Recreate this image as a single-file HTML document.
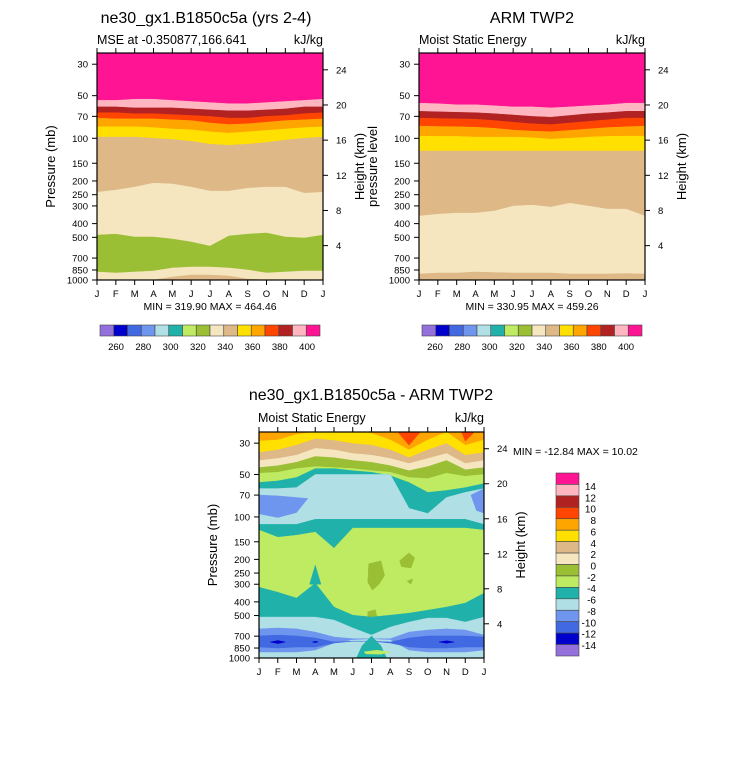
<!DOCTYPE html>
<html><head><meta charset="utf-8"><style>
body{margin:0;background:#fff;}
svg{display:block;font-family:"Liberation Sans",Arial,sans-serif;}
</style></head><body>
<svg id="root" width="733" height="768" viewBox="0 0 733 768" xmlns="http://www.w3.org/2000/svg"></svg>
<script>
const months=['J','F','M','A','M','J','J','A','S','O','N','D','J'];
const pTicks=[30,50,70,100,150,200,250,300,400,500,700,850,1000];
const zTicks=[4,8,12,16,20,24];
const C={purple:'#9370DB',mblue:'#0000CD',royal:'#4169E1',corn:'#6F96EE',powder:'#B0E0E6',lsg:'#20B2AA',gy:'#BEEB62',yg:'#9ABF34',wheat:'#F5E6C0',burly:'#DEB887',gold:'#FFE000',orange:'#FFA500',ored:'#FF4500',fire:'#B22222',lpink:'#FFB6C1',dpink:'#FF1493'};
const barColors=[C.purple,C.mblue,C.royal,C.corn,C.powder,C.lsg,C.gy,C.yg,C.wheat,C.burly,C.gold,C.orange,C.ored,C.fire,C.lpink,C.dpink];
const topBarLabels=['260','280','300','320','340','360','380','400'];
const diffBarLabels=['14','12','10','8','6','4','2','0','-2','-4','-6','-8','-10','-12','-14'];

// Panel 1: model MSE, band boundaries (mb) per month
const m1B1=[54,54,53,53,54,55,56,57,57,56,55,54,53];
const m1B2=[60,60,61,61,61,62,63,64,64,63,62,60,60];
const m1B3=[66,66,67,67,68,69,70,72,72,70,69,67,66];
const m1B4=[72,73,73,73,74,75,78,80,79,77,75,74,73];
const m1B5=[83,83,83,84,86,87,90,92,90,88,86,84,83];
const m1B6=[98,98,98,100,102,105,110,112,110,107,103,100,98];
const m1B7=[240,232,221,207,210,221,236,236,225,221,221,244,240];
const m1B8=[482,474,497,497,514,539,576,489,474,466,497,505,482];
const m1B9=[878,893,878,864,823,810,810,823,850,893,878,864,864];
const m1B10=[1000,1000,1000,1000,952,922,922,937,984,1000,1000,1000,1000];
const m1Colors=[C.dpink,C.lpink,C.fire,C.ored,C.orange,C.gold,C.burly,C.wheat,C.yg,C.wheat,C.burly];

// Panel 2: ARM TWP2
const o2B1=[56.5,57,58,58,59,60,60,61,60,59,58,56.5,56.5];
const o2B2=[64.5,65,65.5,66,67,68.5,70,71,69,67,66,64.5,64.5];
const o2B3=[72,72.5,73,73.3,75,77,79,80,78,76,74,72,72];
const o2B4=[82,82.5,83,83.5,85,87.5,89,90,88,86,84,83,82];
const o2B5=[96.5,97,97,98,98,98,99,101.5,100,98,97,96.5,96.5];
const o2B6=[123,123,123,123,123,123,123,123,123,123,123,123,123];
const o2B7=[354,343,337,337,326,301,296,306,287,301,316,316,354];
const o2B8=[907,893,893,878,885,893,893,893,907,907,907,900,907];
const o2Colors=[C.dpink,C.lpink,C.fire,C.ored,C.orange,C.gold,C.burly,C.wheat,C.burly];

// Panel 3: difference
const d3T1=[29,28.5,26,25,25,25,25.5,28.5,33.5,28.5,25,31,28.5];
const d3T2=[35,33.5,31,28,28.7,30.2,31,33.5,38,33.5,30.2,36.5,35];
const d3T3=[39.8,38.5,36.5,32.7,33.5,35.5,36.5,38.5,41.8,38.5,35.5,41.8,39.8];
const d3T4=[44.7,43.3,41,37.3,38,39.8,41,43.3,47,44,39.8,46.3,44.7];
const d3T5=[49,48.3,45.4,44,44.7,45.4,47,48.3,52.5,53.5,49,51.5,50];
const d3T6=[57,55.5,52.5,45.4,45.4,47,48.3,51,57,67,65,62,58];
const d3T7=[63,63,62,50,50,50,50,50,87,94.5,72.8,67,63];
const d3T8=[113,113,113,104,104,104,104,104,104,104,104,104,113];
const d3T9=[124,139.5,135,128,167,120,120,120,120,120,120,120,124];
const d3Colors=[C.orange,C.gold,C.burly,C.wheat,C.yg,C.gy,C.lsg,C.powder,C.lsg,C.gy];
const lowLsgTop=[315,342,376,295,436,497,513,497,481,458,436,408,347];
const powderTop=[513,513,513,513,539,613,688,604,557,521,521,557,513];
const cornTop=[622,613,622,655,710,730,730,730,655,633,622,633,688];
const cornBot=[907,907,907,878,783,740,730,740,878,907,907,907,878];
const royalTop=[698,688,698,722,770,760,760,770,722,698,698,698,710];
const royalBot=[836,850,836,836,783,760,760,783,836,850,850,836,836];
const blobCornL=[[0,70],[1,71],[2.6,74],[2,93],[1,101],[0,95]];
const blobCornR=[[11.3,70],[12,63],[12,94],[11.6,90]];
const blobOredS=[[7.4,25],[8,31],[8.6,25]];
const blobOredD=[[10.8,25],[11,29],[11.5,25]];
const blobLsgSpike=[[2.7,300],[3,220],[3.3,300]];
const blobMblueF=[[0.6,770],[1,752],[1.4,770],[1,790]];
const blobMblueO=[[9.6,770],[10,755],[10.4,770],[10,785]];
const blobMblueA=[[2.85,770],[3,762],[3.15,770],[3,778]];
const blobLsgJ=[[5.2,1000],[5.5,820],[6,700],[6.5,820],[6.8,1000]];
const blobGyJ=[[5.6,905],[6.3,880],[7,910],[6.5,940],[5.7,935]];
const blobYg1=[[5.85,215],[6.5,205],[6.7,260],[6.4,300],[6.05,330],[5.8,290]];
const blobYg2=[[7.5,205],[8,180],[8.3,195],[8.1,230],[7.6,225]];
const blobYg3=[[5.8,470],[6.2,455],[6.3,520],[5.8,510]];
const blobYg4=[[7.9,285],[8.2,275],[8.1,300]];

const NS='http://www.w3.org/2000/svg';
const root=document.getElementById('root');
function el(tag,attrs,parent){const e=document.createElementNS(NS,tag);for(const k in attrs)e.setAttribute(k,attrs[k]);(parent||root).appendChild(e);return e;}
function txt(s,x,y,size,anchor,parent,rot){const t=el('text',{x:x,y:y,'font-size':size,'text-anchor':anchor||'start',fill:'#000'},parent);if(rot)t.setAttribute('transform','rotate(-90 '+x+' '+y+')');t.textContent=s;return t;}

function makeAxes(px,py,w,h){
  return {x:i=>px+i*w/12,y:p=>py+h*Math.log10(p/25)/Math.log10(40)};
}
function bandPath(ax,top,bot){
  let d='';
  for(let i=0;i<13;i++)d+=(i?'L':'M')+ax.x(i).toFixed(1)+','+ax.y(top[i]).toFixed(1);
  for(let i=12;i>=0;i--)d+='L'+ax.x(i).toFixed(1)+','+ax.y(bot[i]).toFixed(1);
  return d+'Z';
}
function blobPath(ax,pts){return pts.map((q,i)=>(i?'L':'M')+ax.x(q[0]).toFixed(1)+','+ax.y(q[1]).toFixed(1)).join('')+'Z';}
const TOP=new Array(13).fill(25), BOT=new Array(13).fill(1000);

function drawPanel(g,ax,px,py,w,h,bounds,colors){
  const all=[TOP].concat(bounds).concat([BOT]);
  for(let b=0;b<colors.length;b++){
    const p=el('path',{d:bandPath(ax,all[b],all[b+1]),fill:colors[b],stroke:colors[b],'stroke-width':0.5},g);
    
    
  }
}
function layer(g,ax,top,bot,color){
  const p=el('path',{d:bandPath(ax,top,bot),fill:color,stroke:color,'stroke-width':0.5},g);
  
  
}
function blob(g,ax,pts,color){
  const p=el('path',{d:blobPath(ax,pts),fill:color,stroke:color,'stroke-width':0.5},g);
  
  
}
function frame(g,ax,px,py,w,h,leftTitle){
  el('rect',{x:px,y:py,width:w,height:h,fill:'none',stroke:'#000','stroke-width':1.2},g);
  pTicks.forEach(p=>{const y=ax.y(p);el('line',{x1:px-5,x2:px,y1:y,y2:y,stroke:'#000'},g);
    const t=txt(String(p),px-9,y+3.5,9.5,'end',g);});
  zTicks.forEach(z=>{const p=1013*Math.exp(-z/7);const y=ax.y(p);el('line',{x1:px+w,x2:px+w+5,y1:y,y2:y,stroke:'#000'},g);
    const t=txt(String(z),px+w+13,y+3.5,9.5,'start',g);});
  months.forEach((m,i)=>{const x=ax.x(i);el('line',{x1:x,x2:x,y1:py+h,y2:py+h+5,stroke:'#000'},g);el('line',{x1:x,x2:x,y1:py-5,y2:py,stroke:'#000'},g);
    const t=txt(m,x,py+h+17,9.5,'middle',g);});
  const a=txt(leftTitle,px-42,py+h/2,13,'middle',g,true);
  const b=txt('Height (km)',px+w+41,py+h/2,13,'middle',g,true);
}
function hbar(g,x0,y0,w,hgt,lblX0){
  const bw=w/16;
  barColors.forEach((c,i)=>{const r=el('rect',{x:x0+i*bw,y:y0,width:bw,height:hgt,fill:c,stroke:'#444','stroke-width':0.6},g);
    });
  topBarLabels.forEach((l,j)=>{const t=txt(l,lblX0+j*27.3,y0+25,9.5,'middle',g);});
}

// Panel 1
const g1=el('g',{});
const a1=makeAxes(97,53,226,227);
drawPanel(g1,a1,97,53,226,227,[m1B1,m1B2,m1B3,m1B4,m1B5,m1B6,m1B7,m1B8,m1B9,m1B10],m1Colors);
frame(g1,a1,97,53,226,227,'Pressure (mb)');
let t;
t=txt('ne30_gx1.B1850c5a (yrs 2-4)',206,23,16,'middle',g1);
t=txt('MSE at -0.350877,166.641',97,44,12.5,'start',g1);
t=txt('kJ/kg',323,44,12.5,'end',g1);
t=txt('MIN = 319.90 MAX = 464.46',210,310,10.5,'middle',g1);
hbar(g1,100,325,220,11,116);

// Panel 2
const g2=el('g',{});
const a2=makeAxes(419,53,226,227);
drawPanel(g2,a2,419,53,226,227,[o2B1,o2B2,o2B3,o2B4,o2B5,o2B6,o2B7,o2B8],o2Colors);
frame(g2,a2,419,53,226,227,'pressure level');
t=txt('ARM TWP2',532,23,16,'middle',g2);
t=txt('Moist Static Energy',419,44,12.5,'start',g2);
t=txt('kJ/kg',645,44,12.5,'end',g2);
t=txt('MIN = 330.95 MAX = 459.26',532,310,10.5,'middle',g2);
hbar(g2,422,325,220,11,435);

// Panel 3
const g3=el('g',{});
const a3=makeAxes(259,432,225,226);
drawPanel(g3,a3,259,432,225,226,[d3T1,d3T2,d3T3,d3T4,d3T5,d3T6,d3T7,d3T8,d3T9],d3Colors);
blob(g3,a3,blobOredS,C.ored);blob(g3,a3,blobOredD,C.ored);
blob(g3,a3,blobCornL,C.corn);blob(g3,a3,blobCornR,C.corn);
blob(g3,a3,blobYg1,C.yg);blob(g3,a3,blobYg2,C.yg);blob(g3,a3,blobYg3,C.yg);blob(g3,a3,blobYg4,C.yg);
layer(g3,a3,lowLsgTop,BOT,C.lsg);
blob(g3,a3,blobLsgSpike,C.lsg);
layer(g3,a3,powderTop,BOT,C.powder);
layer(g3,a3,cornTop,cornBot,C.corn);
layer(g3,a3,royalTop,royalBot,C.royal);
blob(g3,a3,blobMblueF,C.mblue);blob(g3,a3,blobMblueO,C.mblue);blob(g3,a3,blobMblueA,C.mblue);
blob(g3,a3,blobLsgJ,C.lsg);blob(g3,a3,blobGyJ,C.gy);
frame(g3,a3,259,432,225,226,'Pressure (mb)');
t=txt('ne30_gx1.B1850c5a - ARM TWP2',371,400,16,'middle',g3);
t=txt('Moist Static Energy',258,422,12.5,'start',g3);
t=txt('kJ/kg',484,422,12.5,'end',g3);
t=txt('MIN = -12.84 MAX =  10.02',513,455,10.5,'start',g3);
const vb=el('g',{},g3);
const bh=(656-473)/16;
barColors.slice().reverse().forEach((c,i)=>{const r=el('rect',{x:556,y:473+i*bh,width:23,height:bh,fill:c,stroke:'#444','stroke-width':0.6},vb);
  });
diffBarLabels.forEach((l,j)=>{const tt=txt(l,596,486+j*11.36+4,10,'end',vb);});
</script>
</body></html>
